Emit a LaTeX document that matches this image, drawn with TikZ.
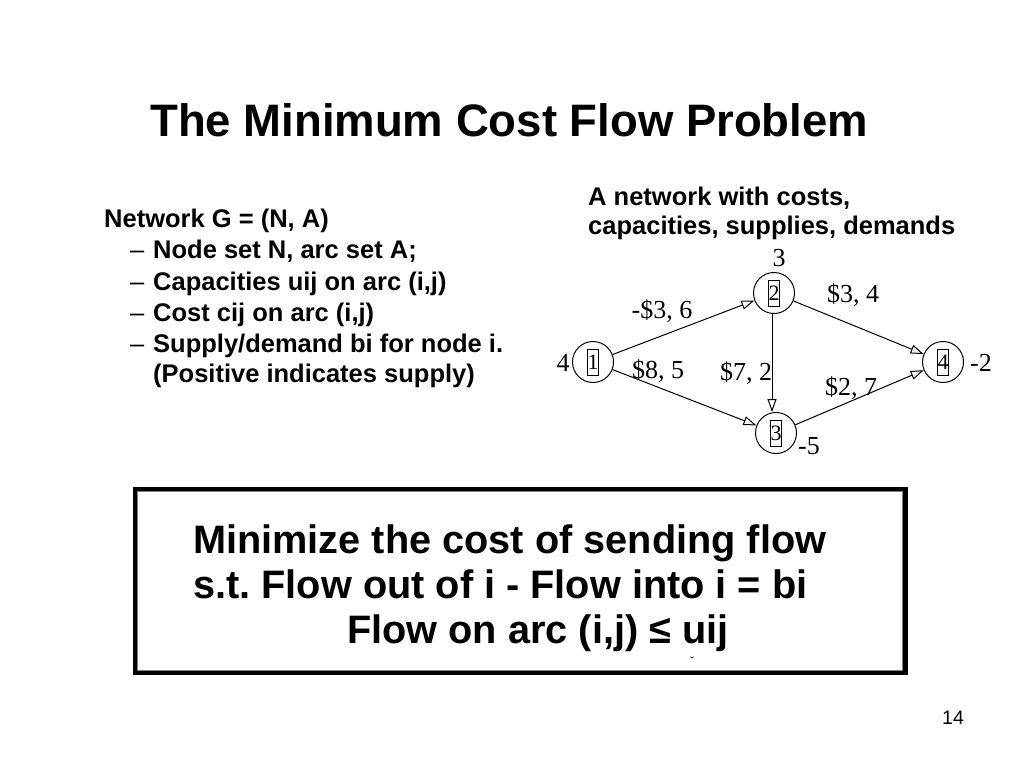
\documentclass[tikz,border=0pt]{standalone}
\usepackage{fontspec}
\setmainfont{Liberation Sans}
\newfontfamily\gfont{Liberation Serif}
\usetikzlibrary{arrows.meta}
\frenchspacing
\begin{document}
\begin{tikzpicture}[x=1pt,y=-1pt,
  titletxt/.style={anchor=base west, inner sep=0pt, font=\fontsize{45.5}{45.5}\selectfont\bfseries},
  bodytxt/.style={anchor=base west, inner sep=0pt, font=\fontsize{25.5}{25.5}\selectfont\bfseries},
  boxtxt/.style={anchor=base west, inner sep=0pt, font=\fontsize{39.7}{39.7}\selectfont\bfseries},
  gnode/.style={circle, draw, minimum size=41pt, inner sep=0pt, line width=1pt},
  numbox/.style={draw, rectangle, minimum width=10pt, minimum height=26pt, inner sep=0pt, line width=0.9pt, font=\gfont\fontsize{22}{22}\selectfont},
  glabel/.style={inner sep=0pt, font=\gfont\fontsize{26}{26}\selectfont},
  edge/.style={-{Triangle[open,length=13pt,width=9pt]}, line width=1pt},
  framebox/.style={draw, line width=5pt, minimum width=770pt, minimum height=183pt, inner sep=0pt},
]
\useasboundingbox (0,0) rectangle (1024,768);
\fill[white] (0,0) rectangle (1024,768);

% title
\node[titletxt] (title) at (150,136) {The Minimum Cost Flow Problem};

% left text
\node[bodytxt] (l0) at (104,227) {Network G = (N, A)};
\node[bodytxt] (l1) at (130,258) {\makebox[23pt][l]{\mdseries –}Node set N, arc set A;};
\node[bodytxt] (l2) at (130,290) {\makebox[23pt][l]{\mdseries –}Capacities uij on arc (i,j)};
\node[bodytxt] (l3) at (130,321) {\makebox[23pt][l]{\mdseries –}Cost cij on arc (i,j)};
\node[bodytxt] (l4) at (130,352) {\makebox[23pt][l]{\mdseries –}Supply/demand bi for node i.};
\node[bodytxt] (l5) at (153,382) {(Positive indicates supply)};

% right text
\node[bodytxt] (r0) at (588,205) {A network with costs,};
\node[bodytxt] (r1) at (588,234) {capacities, supplies, demands};

% network
\node[gnode] (n1) at (593,362) {};
\node[gnode] (n2) at (774,293) {};
\node[gnode] (n3) at (776,433) {};
\node[gnode] (n4) at (943,362) {};
\node[numbox] (b1) at (n1) {1};
\node[numbox] (b2) at (n2) {2};
\node[numbox] (b3) at (n3) {3};
\node[numbox] (b4) at (n4) {4};

\draw[edge] (n1) -- (n2);
\draw[edge] (n1) -- (n3);
\draw[edge] (n2) -- (n4);
\draw[edge] (n3) -- (n4);
\draw[edge] ([xshift=-2pt]n2.south) -- ([xshift=-2pt]n2.south |- n3.north);

\node[glabel] (s2) at (779,258) {3};
\node[glabel] (s1) at (563,363) {4};
\node[glabel] (s4) at (981,363) {-2};
\node[glabel] (s3) at (809,446) {-5};

\node[glabel] (e12) at (662,311) {-\$3, 6};
\node[glabel] (e13) at (658,371) {\$8, 5};
\node[glabel] (e23) at (746,373) {\$7, 2};
\node[glabel] (e24) at (853,295) {\$3, 4};
\node[glabel] (e34) at (851,388) {\$2, 7};

% problem box
\node[framebox] (box) at (520,581) {};
\draw[gray, line width=0.7pt] ([shift={(5,-4.5)}]box.south west) rectangle ([shift={(-5,4.5)}]box.north east);
\node[boxtxt] (p1) at (193,553) {Minimize the cost of sending flow};
\node[boxtxt] (p2) at (193,598) {s.t. Flow out of i - Flow into i = bi};
\node[boxtxt] (p3) at (347,643) {Flow on arc (i,j) ≤ uij};
\node[inner sep=0pt, font=\fontsize{10}{10}\selectfont\bfseries] (mark) at (692,661) {ˇ};

% page number
\node[anchor=base west, inner sep=0pt, font=\fontsize{19.5}{19.5}\selectfont] (pg) at (942,724) {14};
\end{tikzpicture}
\end{document}
